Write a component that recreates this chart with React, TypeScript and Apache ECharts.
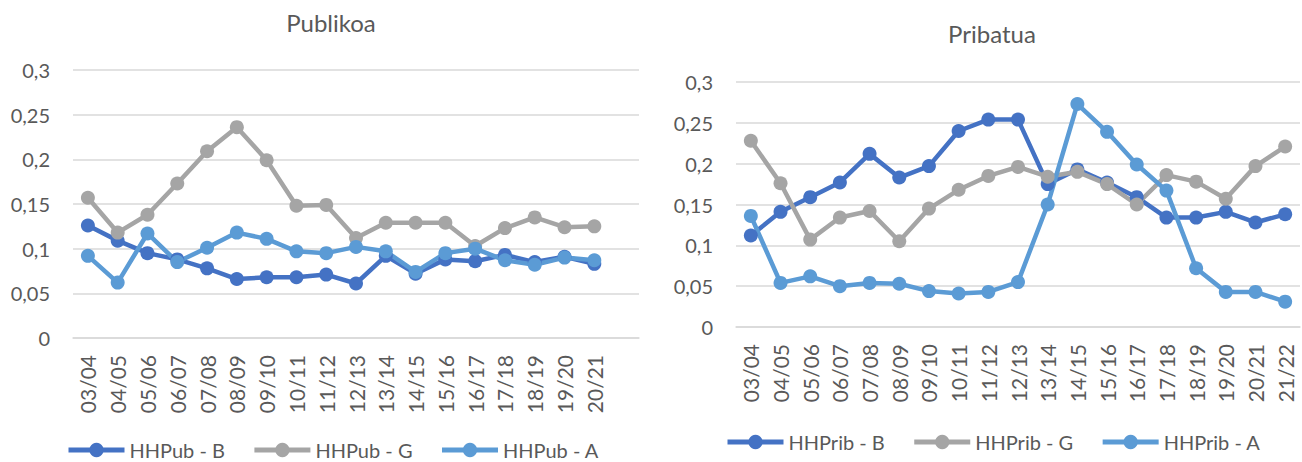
import React, { useEffect, useRef } from "react";
import * as echarts from "echarts";

const pubCategories = ["03/04","04/05","05/06","06/07","07/08","08/09","09/10","10/11","11/12","12/13","13/14","14/15","15/16","16/17","17/18","18/19","19/20","20/21",""];
const pubB = [0.126,0.109,0.095,0.088,0.078,0.066,0.068,0.068,0.071,0.061,0.092,0.072,0.088,0.086,0.093,0.085,0.091,0.083];
const pubG = [0.157,0.118,0.138,0.173,0.209,0.236,0.199,0.148,0.149,0.112,0.129,0.129,0.129,0.103,0.123,0.135,0.124,0.125];
const pubA = [0.092,0.062,0.117,0.085,0.101,0.118,0.111,0.097,0.095,0.102,0.097,0.074,0.095,0.1,0.087,0.082,0.09,0.087];

const privCategories = ["03/04","04/05","05/06","06/07","07/08","08/09","09/10","10/11","11/12","12/13","13/14","14/15","15/16","16/17","17/18","18/19","19/20","20/21","21/22"];
const privB = [0.112,0.141,0.159,0.177,0.212,0.183,0.197,0.240,0.254,0.254,0.175,0.193,0.177,0.159,0.134,0.134,0.141,0.128,0.138];
const privG = [0.228,0.176,0.107,0.134,0.142,0.105,0.145,0.168,0.185,0.196,0.184,0.190,0.175,0.150,0.186,0.178,0.157,0.197,0.221];
const privA = [0.136,0.054,0.062,0.050,0.054,0.053,0.044,0.041,0.043,0.055,0.150,0.273,0.239,0.199,0.167,0.072,0.043,0.043,0.031];

const pubNames = ["HHPub - B", "HHPub - G", "HHPub - A"];
const privNames = ["HHPrib - B", "HHPrib - G", "HHPrib - A"];
const colors = ["#4472C4", "#A5A5A5", "#5B9BD5"];

const FONT = "Lato";
const TXT = "#595959";

function fmt(v: number) {
  const r = Math.round(v * 100) / 100;
  return String(r).replace(".", ",");
}

export default function App() {
  const ref = useRef<HTMLDivElement>(null);
  useEffect(() => {
    if (!ref.current) return;
    const chart = echarts.init(ref.current, null, { renderer: "svg" });
    const yAxisBase = (gridIndex: number) => ({
      type: "value" as const,
      gridIndex,
      min: 0,
      max: 0.3,
      interval: 0.05,
      axisLine: { show: false },
      axisTick: { show: false },
      axisLabel: { color: TXT, fontFamily: FONT, fontSize: 20, margin: 23, formatter: (v: number) => fmt(v) },
      splitLine: { lineStyle: { color: "#D9D9D9", width: 1.5 } },
    });
    const xAxisBase = (gridIndex: number, data: string[]) => ({
      type: "category" as const,
      gridIndex,
      data,
      boundaryGap: true,
      axisLine: { lineStyle: { color: "#D9D9D9", width: 1.5 } },
      axisTick: { show: false },
      axisLabel: { color: TXT, fontFamily: FONT, fontSize: 21, rotate: 90, margin: 17, interval: 0 },
    });
    const mk = (name: string, data: number[], color: string, idx: number) => ({
      name,
      type: "line" as const,
      xAxisIndex: idx,
      yAxisIndex: idx,
      data,
      symbol: "circle",
      symbolSize: 14,
      lineStyle: { color, width: 4.5 },
      itemStyle: { color },
      emphasis: { disabled: true },
    });
    const legendBase = {
      itemWidth: 56,
      itemHeight: 18,
      itemGap: 27,
      lineStyle: { width: 5 },
      textStyle: { color: TXT, fontFamily: FONT, fontSize: 20 },
    };
    chart.setOption({
      animation: false,
      graphic: [
        { type: "text", x: 331, y: 22, style: { text: "Publikoa", textAlign: "center", textVerticalAlign: "middle", fontSize: 24, fontFamily: FONT, fill: TXT } },
        { type: "text", x: 992, y: 33, style: { text: "Pribatua", textAlign: "center", textVerticalAlign: "middle", fontSize: 24, fontFamily: FONT, fill: TXT } },
      ],
      grid: [
        { left: 73, top: 70, width: 566, height: 268 },
        { left: 736, top: 82, width: 564, height: 245 },
      ],
      xAxis: [xAxisBase(0, pubCategories), xAxisBase(1, privCategories)],
      yAxis: [yAxisBase(0), yAxisBase(1)],
      legend: [
        { ...legendBase, data: pubNames, left: 61, top: 435 },
        { ...legendBase, data: privNames, left: 720, top: 427 },
      ],
      series: [
        mk(pubNames[0], pubB, colors[0], 0),
        mk(pubNames[1], pubG, colors[1], 0),
        mk(pubNames[2], pubA, colors[2], 0),
        mk(privNames[0], privB, colors[0], 1),
        mk(privNames[1], privG, colors[1], 1),
        mk(privNames[2], privA, colors[2], 1),
      ],
    });
    return () => chart.dispose();
  }, []);
  return (
    <div
      ref={ref}
      style={{ position: "fixed", left: 0, top: 0, width: 1302, height: 462, background: "#fff" }}
    />
  );
}
